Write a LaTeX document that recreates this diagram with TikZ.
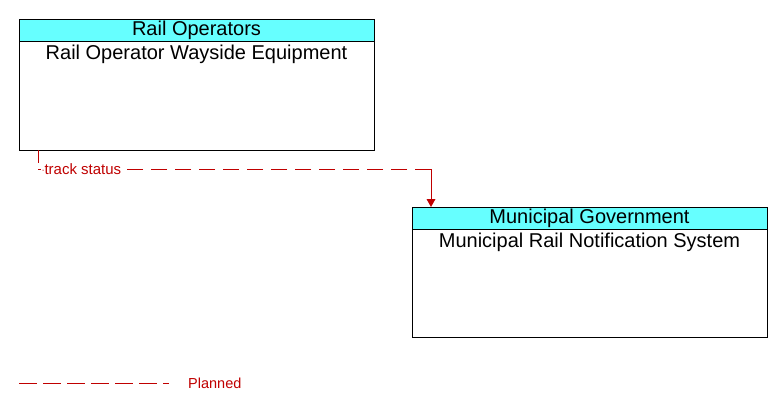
\documentclass[tikz,border=0pt]{standalone}
\usepackage{fontspec}
\setmainfont{Liberation Sans}
\usetikzlibrary{arrows.meta}
\definecolor{hdr}{RGB}{102,255,255}
\definecolor{flow}{RGB}{192,0,0}
\begin{document}
\begin{tikzpicture}[x=1pt,y=-1pt,
  hdrbox/.style={draw=black, fill=hdr, line width=0.8pt},
  bodybox/.style={draw=black, fill=white, line width=0.8pt},
  hdrtext/.style={font=\fontsize{20}{22}\selectfont, inner sep=0pt},
  bodytext/.style={font=\fontsize{20}{22}\selectfont, inner sep=0pt},
  flowline/.style={draw=flow, line width=0.9pt, dash pattern=on 16pt off 8pt},
  flowlabel/.style={text=flow, font=\fontsize{15}{17}\selectfont, inner sep=1pt, fill=white},
]
\useasboundingbox (0,0) rectangle (783,412);
% box 1
\draw[bodybox] (19,19) rectangle (374,150);
\draw[hdrbox] (19,19) rectangle (374,41);
\node[hdrtext] (h1) at (196.5,30) {Rail Operators};
\node[bodytext] (b1) at (196.5,54) {Rail Operator Wayside Equipment};
\coordinate (s1) at (38,150);
% box 2
\draw[bodybox] (412,207) rectangle (767,337);
\draw[hdrbox] (412,207) rectangle (767,229);
\node[hdrtext] (h2) at (589.5,218) {Municipal Government};
\node[bodytext] (b2) at (589.5,242) {Municipal Rail Notification System};
\coordinate (t2) at (431,207);
% connector
\coordinate (c1) at (38,169);
\coordinate (c2) at (431,169);
\coordinate (t2a) at (431,200);
\draw[draw=flow, line width=0.9pt] (s1) -- (38,163);
\draw[flowline] (c2) -- (c1);
\draw[draw=flow, line width=0.9pt] (c2) -- (t2a);
\fill[flow] (t2) -- ++(-4.5,-8) -- ++(9,0) -- cycle;
\node[flowlabel, anchor=west] (lbl) at (41,169) {{\scriptsize\raisebox{0.25em}{-}}track status};
% legend
\coordinate (l1) at (19,383);
\coordinate (l2) at (169,383);
\draw[flowline, dash pattern=on 18pt off 6pt] (l1) -- (l2);
\node[text=flow, font=\fontsize{14.5}{16}\selectfont, anchor=west, inner sep=0pt] (leg) at (188,383) {Planned};
\end{tikzpicture}
\end{document}
